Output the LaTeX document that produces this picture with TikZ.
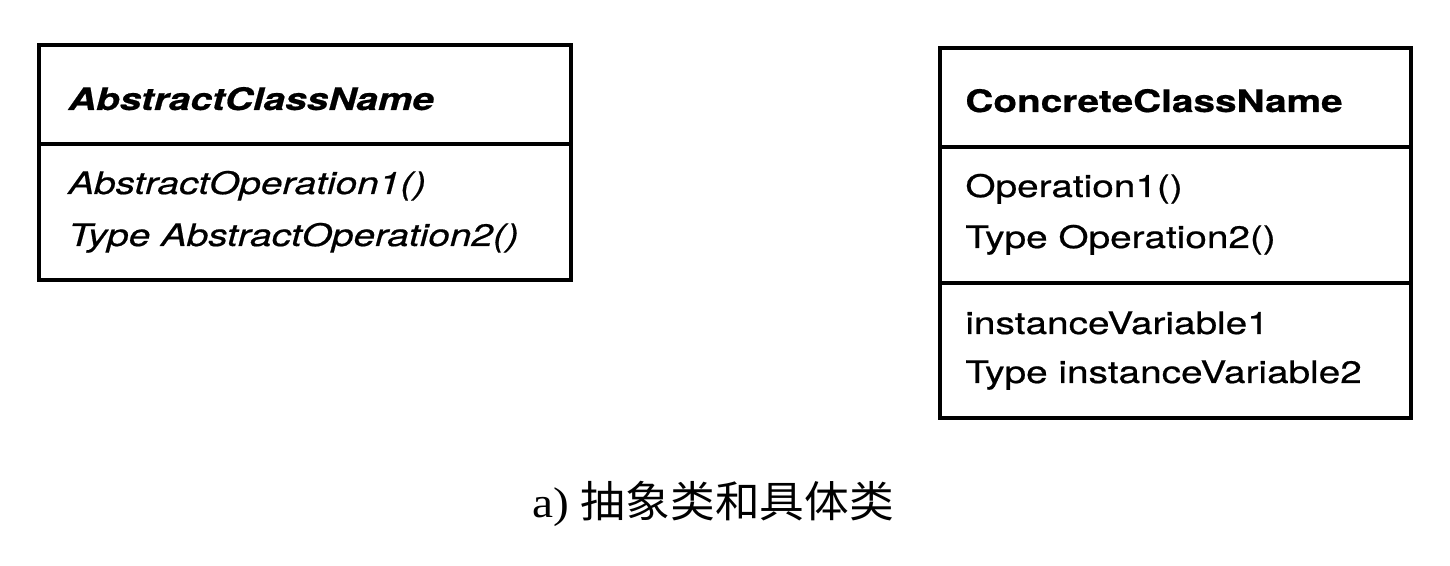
\documentclass[tikz,border=0pt]{standalone}
\usepackage{fontspec}
\newfontfamily\umlfont[FakeStretch=1.25,FakeBold=0.6]{TeX Gyre Heros}
\newfontfamily\capfont[FakeStretch=1.1]{Liberation Serif}
\newfontfamily\cjkfont[FakeStretch=1.04]{Noto Sans CJK SC}

\tikzset{
  classbox/.style={line width=2pt},
  member/.style={anchor=base west, inner sep=0pt, font=\umlfont\fontsize{15.5}{18}\selectfont},
}

\begin{document}
\begin{tikzpicture}[x=0.5pt,y=0.5pt,yscale=-1]
\useasboundingbox (0,0) rectangle (1450,566);

%Shape: Rectangle, abstract class
\draw [classbox] (39,45) rectangle (571,280) ;
\draw [classbox] (39,144) -- (571,144) ;

%Shape: Rectangle, concrete class
\draw [classbox] (940,48) rectangle (1411,418) ;
\draw [classbox] (940,147) -- (1411,147) ;
\draw [classbox] (940,283) -- (1411,283) ;

% Text Node
\node [member] (absname) at (68,110) {\bfseries\itshape AbstractClassName};
% Text Node
\node [member] (absop1) at (68,194) {\itshape AbstractOperation1()};
% Text Node
\node [member] (absop2) at (68,246) {\itshape Type AbstractOperation2()};

% Text Node
\node [member] (conname) at (965,112) {\bfseries ConcreteClassName};
% Text Node
\node [member] (conop1) at (965,197) {Operation1()};
% Text Node
\node [member] (conop2) at (965,248) {Type Operation2()};
% Text Node
\node [member] (convar1) at (965,334) {instanceVariable1};
% Text Node
\node [member] (convar2) at (965,383) {Type instanceVariable2};

% Text Node
\node [anchor=base west, inner sep=0pt] (caption) at (532,517) {\fontsize{21.5}{26}\selectfont\capfont a)\ \cjkfont 抽象类和具体类};

\end{tikzpicture}
\end{document}
